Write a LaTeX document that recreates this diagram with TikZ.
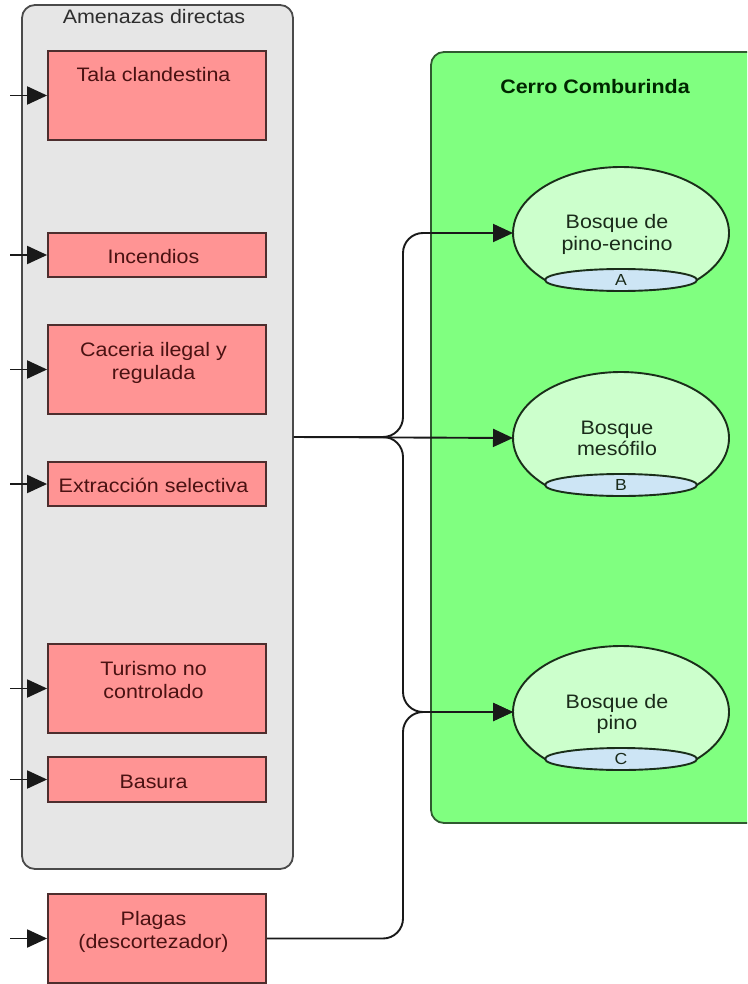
\documentclass[tikz,border=0pt]{standalone}
\usepackage{fontspec}
\setmainfont{Liberation Sans}[FakeStretch=1.1]
\usetikzlibrary{arrows.meta,shapes.geometric}

\definecolor{panelgray}{HTML}{E6E6E6}
\definecolor{panelline}{HTML}{4A4A4A}
\definecolor{threatfill}{HTML}{FF9494}
\definecolor{threatline}{HTML}{4D2E2E}
\definecolor{threattext}{HTML}{4A1212}
\definecolor{hillfill}{HTML}{80FF80}
\definecolor{hillline}{HTML}{2F5A2F}
\definecolor{forestfill}{HTML}{CCFFCC}
\definecolor{forestline}{HTML}{1A2E1A}
\definecolor{foresttext}{HTML}{1A2B1A}
\definecolor{capfill}{HTML}{CDE5F5}
\definecolor{titletext}{HTML}{2E2E2E}

\begin{document}
\begin{tikzpicture}[x=1pt,y=1pt,
  panel/.style={draw=panelline,line width=1.8pt,rounded corners=13pt,inner sep=0pt},
  threat/.style={draw=threatline,fill=threatfill,line width=1.8pt,
    minimum width=218pt,inner sep=0pt},
  threattxt/.style={anchor=base,align=center,text=threattext,
    font=\fontsize{19.5}{23}\selectfont},
  foresttxt/.style={anchor=base,align=center,text=foresttext,
    font=\fontsize{19.5}{21.5}\selectfont},
  forestarea/.style={ellipse,minimum width=216pt,minimum height=132pt,
    inner sep=0pt,outer sep=0pt},
  forestbody/.style={draw=forestline,fill=forestfill,line width=1.9pt},
  capsule/.style={ellipse,draw=forestline,fill=capfill,line width=1.9pt,
    minimum width=152pt,minimum height=22pt,inner sep=0pt,
    font=\fontsize{16}{18}\selectfont,text=foresttext},
  conn/.style={draw=black!90,line width=1.9pt,rounded corners=20pt},
  feed/.style={conn,-{Triangle[length=20pt,width=18pt]}},
]
\clip (0,0) rectangle (747,-984);

% --- container of direct threats ---
\node[panel,fill=panelgray,minimum width=271pt,minimum height=864pt] (amen) at (157.5,-437) {};
\node[anchor=base,text=titletext,font=\fontsize{19.5}{23}\selectfont] (amenT) at (154,-24) {Amenazas directas};

% --- threat boxes ---
\node[threat,minimum height=89pt] (tala) at (157,-95.5) {};
\node[threat,minimum height=44pt] (inc)  at (157,-255)  {};
\node[threat,minimum height=89pt] (cac)  at (157,-369.5) {};
\node[threat,minimum height=44pt] (ext)  at (157,-484)  {};
\node[threat,minimum height=89pt] (tur)  at (157,-688.5) {};
\node[threat,minimum height=45pt] (bas)  at (157,-779.5) {};
\node[threat,minimum height=89pt] (pla)  at (157,-938.5) {};

% labels are placed by the baseline of their last line
\node[threattxt] (talaT) at (153.5,-82)  {Tala clandestina};
\node[threattxt] (incT)  at (153.5,-263.5) {Incendios};
\node[threattxt] (cacT)  at (153.5,-379) {Caceria ilegal y\\regulada};
\node[threattxt] (extT)  at (153.5,-492) {Extracción selectiva};
\node[threattxt] (turT)  at (153.5,-698) {Turismo no\\controlado};
\node[threattxt] (basT)  at (153.5,-788) {Basura};
\node[threattxt] (plaT)  at (153.5,-948) {Plagas\\(descortezador)};

% incoming arrows on every threat
\foreach \t in {tala,inc,cac,tur,bas,pla,ext}
  \draw[feed] ([xshift=-37pt]\t.west) -- (\t.west);

% --- hill area ---
\node[panel,draw=hillline,fill=hillfill,minimum width=339pt,minimum height=771pt] (cerro) at (600.5,-437.5) {};
\node[anchor=base,font=\bfseries\fontsize{19.5}{23}\selectfont,text=black!85!green] (cerroT) at (595,-94) {Cerro Comburinda};

% --- forest types ---
\foreach \k/\y/\l in {A/233/A,B/438/B,C/712/C}{
  \node[forestarea] (b\k) at (621,-\y) {};
  \path[forestbody] (b\k.center) ++(-45.4:108 and 66)
     arc[start angle=-45.4,end angle=225.4,x radius=108,y radius=66] -- cycle;
  \node[capsule] (s\k) at ([yshift=-47pt]b\k.center) {\l};
}
\node[foresttxt] (bAT) at (617,-250.5) {Bosque de\\pino-encino};
\node[foresttxt] (bBT) at (617,-455.5) {Bosque\\mesófilo};
\node[foresttxt] (bCT) at (617,-729.5) {Bosque de\\pino};

% --- links from the threats to the forests ---
\coordinate (bus) at (403,0);
\draw[feed] (amen.east) -| (bus |- bA.west) -- (bA.west);
\draw[feed] (amen.east) -- (bB.west);
\draw[feed] (amen.east) -| (bus |- bC.west) -- (bC.west);
\draw[feed] (pla.east) -| (bus |- bC.west) -- (bC.west);
\end{tikzpicture}
\end{document}
